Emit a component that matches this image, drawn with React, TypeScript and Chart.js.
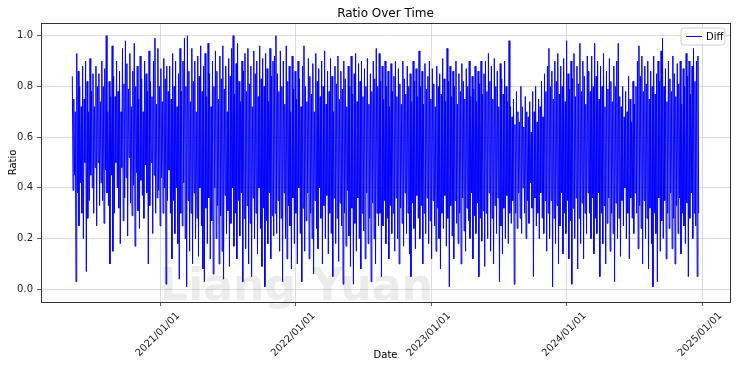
import React, { useEffect, useRef } from "react";
import { Chart, registerables } from "chart.js";

Chart.register(...registerables);

const TITLE = "Ratio Over Time";
const SERIES_LABEL = "Diff";
const X_LABEL = "Date";
const Y_LABEL = "Ratio";
const WATERMARK = "Liang Yuan";
const START_DATE = "2020-05-09";
const END_DATE = "2024-12-22";
const X_TICK_YEARS = [2021, 2022, 2023, 2024, 2025];
const Y_TICKS = [0, 0.2, 0.4, 0.6, 0.8, 1.0];

// 2020-05 .. 2020-12
const RATIO_2020 = [
  0.84, 0.39, 0.75, 0.45, 0.7, 0.03, 0.93, 0.38, 0.86, 0.25, 0.8, 0.42, 0.72, 0.3, 0.88, 0.2,
  0.75, 0.5, 0.9, 0.07, 0.82, 0.28, 0.7, 0.35, 0.91, 0.45, 0.78, 0.4, 0.85, 0.3, 0.72, 0.48,
  0.88, 0.25, 0.8, 0.5, 0.85, 0.33, 0.74, 0.42, 0.9, 0.35, 0.8, 0.26, 0.87, 0.47, 1.0, 0.38,
  0.7, 0.33, 0.82, 0.1, 0.76, 0.45, 0.96, 0.15, 0.84, 0.3, 0.76, 0.5, 0.9, 0.4, 0.78, 0.32,
  0.86, 0.18, 0.7, 0.48, 0.95, 0.27, 0.81, 0.36, 0.98, 0.44, 0.89, 0.21, 0.79, 0.52, 0.93, 0.34,
  0.72, 0.29, 0.86, 0.41, 0.97, 0.17, 0.8, 0.46, 0.88, 0.31, 0.75, 0.24, 0.92, 0.43, 0.83, 0.37,
  0.7, 0.28, 0.9, 0.49, 0.85, 0.38, 0.78, 0.1, 0.94, 0.33, 0.82, 0.5, 0.76, 0.22, 0.9, 0.45,
  0.99, 0.3, 0.73, 0.36, 0.95, 0.39, 0.8, 0.25, 0.87, 0.44, 0.74, 0.3, 0.91, 0.4, 0.83, 0.02,
  0.88, 0.35, 0.78, 0.47,
];
// 2021
const RATIO_2021 = [
  0.88, 0.3, 0.75, 0.12, 0.93, 0.35, 0.8, 0.22, 0.9, 0.4, 0.72, 0.18, 0.85, 0.04, 0.95, 0.3,
  0.78, 0.25, 0.9, 0.42, 0.99, 0.2, 0.8, 0.01, 1.0, 0.35, 0.86, 0.15, 0.74, 0.3, 0.95, 0.1,
  0.82, 0.38, 0.9, 0.2, 0.7, 0.28, 0.92, 0.13, 0.84, 0.4, 0.96, 0.25, 0.78, 0.08, 0.88, 0.03,
  0.93, 0.32, 0.76, 0.18, 0.97, 0.36, 0.85, 0.12, 0.72, 0.27, 0.9, 0.06, 0.8, 0.4, 0.94, 0.2,
  0.86, 0.33, 0.75, 0.1, 0.92, 0.29, 0.83, 0.15, 0.96, 0.04, 0.79, 0.37, 0.88, 0.22, 0.7, 0.31,
  0.91, 0.09, 0.84, 0.26, 0.95, 0.4, 1.0, 0.17, 0.77, 0.3, 0.89, 0.12, 0.97, 0.35, 0.82, 0.21,
  0.74, 0.38, 0.9, 0.03, 0.86, 0.28, 0.93, 0.16, 0.78, 0.33, 0.95, 0.1, 0.81, 0.26, 0.88, 0.05,
  0.72, 0.36, 0.94, 0.2, 0.85, 0.3, 0.9, 0.14, 0.76, 0.4, 0.96, 0.24, 0.83, 0.09, 0.91, 0.32,
  0.8, 0.01, 0.93, 0.27, 0.87, 0.18, 0.74, 0.38, 0.95, 0.12, 0.84, 0.29, 0.9, 0.21,
];
// 2022
const RATIO_2022 = [
  0.92, 0.3, 1.0, 0.22, 0.85, 0.35, 0.78, 0.15, 0.94, 0.28, 0.8, 0.03, 0.9, 0.38, 0.73, 0.2,
  0.96, 0.12, 0.82, 0.33, 0.88, 0.25, 0.7, 0.08, 0.92, 0.36, 0.79, 0.18, 0.86, 0.3, 0.75, 0.1,
  0.9, 0.4, 0.83, 0.22, 0.72, 0.03, 0.88, 0.32, 0.96, 0.15, 0.8, 0.27, 0.74, 0.38, 0.91, 0.12,
  0.84, 0.3, 0.77, 0.2, 0.89, 0.06, 0.7, 0.35, 0.93, 0.24, 0.82, 0.16, 0.87, 0.4, 0.76, 0.28,
  0.9, 0.1, 0.8, 0.33, 0.94, 0.2, 0.73, 0.37, 0.86, 0.14, 0.78, 0.3, 0.91, 0.22, 0.84, 0.05,
  0.7, 0.36, 0.88, 0.18, 0.81, 0.28, 0.92, 0.11, 0.75, 0.34, 0.86, 0.25, 0.79, 0.02, 0.9, 0.3,
  0.83, 0.17, 0.72, 0.39, 0.88, 0.21, 0.8, 0.09, 0.92, 0.32, 0.77, 0.02, 0.85, 0.26, 0.93, 0.15,
  0.74, 0.36, 0.89, 0.2, 0.82, 0.08, 0.9, 0.3, 0.76, 0.23, 0.87, 0.12, 0.8, 0.38, 0.91, 0.18,
  0.73, 0.28, 0.85, 0.03, 0.78, 0.34, 0.9, 0.2, 0.83, 0.1, 0.95, 0.3, 0.8, 0.25,
];
// 2023
const RATIO_2023 = [
  0.93, 0.3, 0.82, 0.05, 0.88, 0.25, 0.75, 0.35, 0.9, 0.18, 0.8, 0.28, 0.86, 0.12, 0.72, 0.33,
  0.89, 0.22, 0.78, 0.3, 0.84, 0.15, 0.9, 0.36, 0.76, 0.2, 0.87, 0.1, 0.81, 0.32, 0.73, 0.26,
  0.9, 0.17, 0.83, 0.38, 0.77, 0.22, 0.88, 0.3, 0.8, 0.14, 0.85, 0.05, 0.74, 0.34, 0.9, 0.24,
  0.82, 0.16, 0.87, 0.37, 0.76, 0.28, 0.94, 0.2, 0.8, 0.33, 0.86, 0.1, 0.73, 0.3, 0.89, 0.22,
  0.79, 0.36, 0.84, 0.18, 0.9, 0.27, 0.75, 0.12, 0.87, 0.35, 0.81, 0.25, 0.72, 0.15, 0.88, 0.32,
  0.8, 0.2, 0.85, 0.08, 0.77, 0.3, 0.91, 0.24, 0.83, 0.37, 0.74, 0.17, 0.95, 0.28, 0.82, 0.01,
  0.88, 0.33, 0.76, 0.21, 0.86, 0.12, 0.8, 0.35, 0.9, 0.26, 0.73, 0.18, 0.85, 0.3, 0.78, 0.1,
  0.89, 0.36, 0.82, 0.23, 0.75, 0.15, 0.87, 0.32, 0.8, 0.27, 0.9, 0.2, 0.76, 0.38, 0.84, 0.12,
  0.79, 0.29, 0.88, 0.22, 0.74, 0.34, 0.86, 0.05, 0.81, 0.28, 0.9, 0.19, 0.77, 0.31,
];
// 2024 (Jan - Jun)
const RATIO_2024A = [
  0.85, 0.09, 0.9, 0.3, 0.78, 0.2, 0.93, 0.38, 0.82, 0.15, 0.88, 0.28, 0.75, 0.1, 0.91, 0.33,
  0.8, 0.22, 0.86, 0.36, 0.72, 0.03, 0.89, 0.25, 0.83, 0.14, 0.77, 0.32, 0.9, 0.2, 0.8, 0.37,
  0.74, 0.18, 0.98, 0.3, 0.72, 0.26, 0.68, 0.35, 0.75, 0.02, 0.65, 0.3, 0.78, 0.24, 0.7, 0.38,
  0.66, 0.28, 0.8, 0.22, 0.72, 0.4, 0.64, 0.3, 0.76, 0.2, 0.7, 0.35, 0.68, 0.26, 0.74, 0.42,
  0.62, 0.32, 0.78, 0.05, 0.7, 0.36, 0.8, 0.25, 0.66, 0.3, 0.75, 0.2, 0.72, 0.38, 0.82, 0.28,
  0.68, 0.22, 0.85, 0.35, 0.78, 0.15, 0.88, 0.3, 0.95, 0.2, 0.8, 0.35, 0.86, 0.01, 0.75, 0.28,
  0.9, 0.18, 0.82, 0.33, 0.93, 0.1, 0.77, 0.25, 0.88, 0.38, 0.8, 0.14, 0.91, 0.3, 0.74, 0.22,
  0.98, 0.35, 0.85, 0.12, 0.79, 0.27, 0.9, 0.02, 0.83, 0.32, 0.93, 0.2, 0.76, 0.36, 0.88, 0.08,
  0.81, 0.28, 0.97, 0.18, 0.78, 0.34, 0.9, 0.12, 0.84, 0.3, 0.73, 0.22, 0.92, 0.38,
];
// 2024 (Jul - Dec)
const RATIO_2024B = [
  0.86, 0.3, 0.78, 0.2, 0.92, 0.36, 0.8, 0.14, 0.97, 0.28, 0.84, 0.22, 0.9, 0.38, 0.75, 0.05,
  0.88, 0.3, 0.8, 0.18, 0.93, 0.33, 0.72, 0.1, 0.86, 0.26, 0.79, 0.36, 0.91, 0.15, 0.82, 0.3,
  0.74, 0.22, 0.88, 0.03, 0.8, 0.34, 0.9, 0.2, 0.97, 0.28, 0.76, 0.13, 0.72, 0.35, 0.8, 0.25,
  0.68, 0.4, 0.78, 0.2, 0.7, 0.3, 0.84, 0.12, 0.75, 0.36, 0.66, 0.28, 0.82, 0.22, 0.73, 0.38,
  0.8, 0.3, 0.9, 0.16, 0.96, 0.33, 0.84, 0.24, 0.92, 0.1, 0.78, 0.35, 0.88, 0.2, 0.81, 0.28,
  0.9, 0.08, 0.75, 0.32, 0.86, 0.18, 0.8, 0.01, 0.92, 0.3, 0.77, 0.22, 0.85, 0.03, 0.9, 0.36,
  0.82, 0.15, 0.94, 0.27, 0.99, 0.2, 0.8, 0.35, 0.87, 0.12, 0.74, 0.3, 0.9, 0.24, 0.83, 0.38,
  0.78, 0.16, 0.92, 0.28, 0.85, 0.1, 0.76, 0.33, 0.89, 0.22, 0.81, 0.36, 0.9, 0.14, 0.73, 0.3,
  0.87, 0.25, 0.8, 0.18, 0.93, 0.34, 0.84, 0.05, 0.9, 0.28, 0.77, 0.38, 0.88, 0.2, 0.95, 0.3,
  0.82, 0.25, 0.9, 0.05, 0.92, 0.3,
];
const RATIO = [
  ...RATIO_2020,
  ...RATIO_2021,
  ...RATIO_2022,
  ...RATIO_2023,
  ...RATIO_2024A,
  ...RATIO_2024B,
];

const DAY = 86400000;
const FONT = "'DejaVu Sans', sans-serif";

function dayOf(s: string) {
  return Date.parse(s + "T00:00:00Z") / DAY;
}

function fmtDate(days: number) {
  const d = new Date(Math.round(days) * DAY);
  const mm = String(d.getUTCMonth() + 1).padStart(2, "0");
  const dd = String(d.getUTCDate()).padStart(2, "0");
  return `${d.getUTCFullYear()}/${mm}/${dd}`;
}

const decorPlugin = {
  id: "decor",
  beforeDatasetsDraw(chart: any) {
    const { ctx, chartArea } = chart;
    ctx.save();
    ctx.font = `bold 10px ${FONT}`;
    const w10 = ctx.measureText(WATERMARK).width;
    const size = (10 * 273) / w10;
    ctx.font = `bold ${size}px ${FONT}`;
    ctx.fillStyle = "rgba(0,0,0,0.075)";
    ctx.textAlign = "center";
    ctx.textBaseline = "alphabetic";
    ctx.fillText(WATERMARK, (chartArea.left + chartArea.right) / 2 - 89, 300);
    ctx.restore();
  },
  afterDatasetsDraw(chart: any) {
    const { ctx, chartArea } = chart;
    const { left, right, top, bottom } = chartArea;
    ctx.save();
    ctx.strokeStyle = "#333333";
    ctx.lineWidth = 1;
    ctx.strokeRect(Math.round(left) + 0.5, Math.round(top) + 0.5, Math.round(right - left), Math.round(bottom - top));
    ctx.fillStyle = "#000000";
    ctx.font = `12px ${FONT}`;
    ctx.textAlign = "center";
    ctx.textBaseline = "middle";
    ctx.fillText(TITLE, (left + right) / 2, 14);
    const bx = right - 49;
    const by = top + 5;
    const bw = 44;
    const bh = 17;
    ctx.beginPath();
    const r = 3;
    ctx.moveTo(bx + r, by);
    ctx.lineTo(bx + bw - r, by);
    ctx.quadraticCurveTo(bx + bw, by, bx + bw, by + r);
    ctx.lineTo(bx + bw, by + bh - r);
    ctx.quadraticCurveTo(bx + bw, by + bh, bx + bw - r, by + bh);
    ctx.lineTo(bx + r, by + bh);
    ctx.quadraticCurveTo(bx, by + bh, bx, by + bh - r);
    ctx.lineTo(bx, by + r);
    ctx.quadraticCurveTo(bx, by, bx + r, by);
    ctx.closePath();
    ctx.fillStyle = "rgba(255,255,255,0.8)";
    ctx.fill();
    ctx.strokeStyle = "#d0d0d0";
    ctx.lineWidth = 1;
    ctx.stroke();
    ctx.beginPath();
    ctx.strokeStyle = "#0000ff";
    ctx.lineWidth = 1;
    ctx.moveTo(bx + 5, by + bh / 2);
    ctx.lineTo(bx + 21, by + bh / 2);
    ctx.stroke();
    ctx.fillStyle = "#000000";
    ctx.font = `10px ${FONT}`;
    ctx.textAlign = "left";
    ctx.textBaseline = "middle";
    ctx.fillText(chart.data.datasets[0].label, bx + 25, by + bh / 2 + 0.5);
    ctx.restore();
  },
};

export default function App() {
  const ref = useRef<HTMLCanvasElement | null>(null);

  useEffect(() => {
    if (!ref.current) return;
    const start = dayOf(START_DATE);
    const end = dayOf(END_DATE);
    const n = RATIO.length;
    const step = (end - start) / (n - 1);
    const points = RATIO.map((v, i) => ({ x: start + i * step, y: v }));
    const span = end - start;
    const xMin = start - span * 0.05;
    const xMax = end + span * 0.05;

    const chart = new Chart(ref.current, {
      type: "line",
      data: {
        datasets: [
          {
            label: SERIES_LABEL,
            data: points,
            borderColor: "#0000ff",
            backgroundColor: "#0000ff",
            borderWidth: 1,
            pointRadius: 0,
            pointHoverRadius: 0,
            tension: 0,
            fill: false,
          },
        ],
      },
      options: {
        animation: false,
        responsive: false,
        maintainAspectRatio: false,
        events: [],
        layout: { padding: { left: 0, right: 10, top: 23, bottom: 0 } },
        plugins: {
          legend: { display: false },
          title: { display: false },
          tooltip: { enabled: false },
        },
        scales: {
          x: {
            type: "linear",
            min: xMin,
            max: xMax,
            afterBuildTicks: (scale: any) => {
              scale.ticks = X_TICK_YEARS.map((y) => ({ value: Date.UTC(y, 0, 1) / DAY }));
            },
            afterFit: (scale: any) => {
              scale.height = 68;
            },
            grid: {
              color: "#d3d3d3",
              lineWidth: 0.8,
              tickColor: "#333333",
              tickLength: 4,
              drawTicks: true,
            },
            border: { display: false },
            ticks: {
              autoSkip: false,
              minRotation: 45,
              maxRotation: 45,
              labelOffset: 18,
              padding: 4,
              color: "#222222",
              font: { family: FONT, size: 10 },
              callback: (v: any) => fmtDate(Number(v)),
            },
            title: {
              display: true,
              text: X_LABEL,
              color: "#000000",
              font: { family: FONT, size: 10 },
              padding: { top: 0, bottom: 9 },
            },
          },
          y: {
            type: "linear",
            min: -0.05,
            max: 1.05,
            afterBuildTicks: (scale: any) => {
              scale.ticks = Y_TICKS.map((v) => ({ value: v }));
            },
            afterFit: (scale: any) => {
              scale.width = 41;
            },
            grid: {
              color: "#d3d3d3",
              lineWidth: 0.8,
              tickColor: "#333333",
              tickLength: 4,
              drawTicks: true,
            },
            border: { display: false },
            ticks: {
              padding: 4,
              color: "#222222",
              font: { family: FONT, size: 10 },
              callback: (v: any) => Number(v).toFixed(1),
            },
            title: {
              display: true,
              text: Y_LABEL,
              color: "#000000",
              font: { family: FONT, size: 10 },
              padding: { top: 7, bottom: 0 },
            },
          },
        },
      },
      plugins: [decorPlugin],
    });
    return () => chart.destroy();
  }, []);

  return (
    <div style={{ position: "fixed", left: 0, top: 0, width: 740, height: 370, background: "#ffffff" }}>
      <canvas ref={ref} width={740} height={370} style={{ display: "block", width: 740, height: 370 }} />
    </div>
  );
}
